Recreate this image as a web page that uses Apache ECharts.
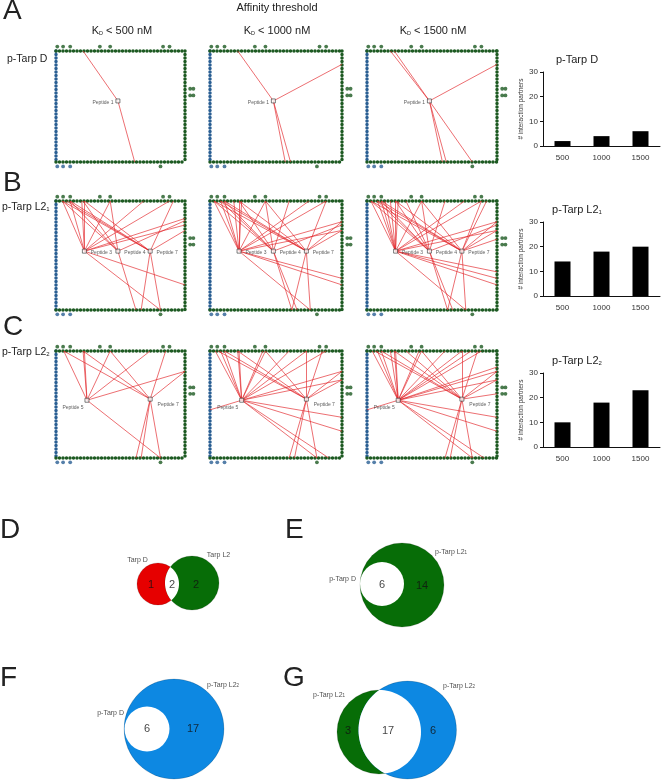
<!DOCTYPE html>
<html>
<head>
<meta charset="utf-8">
<title>Affinity threshold networks</title>
<script src="https://cdn.jsdelivr.net/npm/echarts@6/dist/echarts.min.js"></script>
<style>
html, body { margin: 0; padding: 0; background: #fff; }
#chart { width: 664px; height: 780px; }
</style>
</head>
<body>
<div id="chart"></div>
<script>
// ---- data ----
const thresholds = ['500', '1000', '1500'];
const partnersTarpD = [2, 4, 6];
const partnersTarpL2a = [14, 18, 20];
const partnersTarpL2b = [10, 18, 23];

// peptide nodes: [name, x, y] in box units (0-100, y from top)
const peptidesTarpD = [['Peptide 1', 48, 45]];
const peptidesTarpL2a = [['Peptide 3', 22, 46], ['Peptide 4', 48, 46], ['Peptide 7', 73, 46]];
const peptidesTarpL2b = [['Peptide 5', 24, 46], ['Peptide 7', 73, 45]];

// edges: [peptide index, partner x, partner y] (partners sit on the box border)
const edgesTarpD500 = [[0, 21, 0], [0, 61, 100]];
const edgesTarpD1000 = [[0, 21, 0], [0, 100, 12], [0, 57, 100], [0, 61, 100]];
const edgesTarpD1500 = [[0, 18, 0], [0, 21, 0], [0, 100, 12], [0, 58, 100], [0, 61, 100], [0, 81, 100]];

const edgesTarpL2a500 = [
  [0, 5, 0], [0, 11, 0], [0, 20, 0], [0, 22, 0], [0, 42, 0], [0, 68, 0], [0, 88, 0],
  [0, 100, 16], [0, 100, 22], [0, 100, 77], [0, 81, 100],
  [1, 5, 0], [1, 11, 0], [1, 21, 0], [1, 42, 0], [1, 100, 18], [1, 62, 100],
  [2, 5, 0], [2, 8, 0], [2, 11, 0], [2, 22, 0], [2, 91, 0], [2, 100, 27], [2, 66, 100], [2, 81, 100]
];
const edgesTarpL2a1000 = [
  [0, 3, 0], [0, 8, 0], [0, 11, 0], [0, 18, 0], [0, 22, 0], [0, 24, 0], [0, 42, 0], [0, 75, 0], [0, 88, 0],
  [0, 100, 19], [0, 100, 27], [0, 100, 71], [0, 100, 77], [0, 76, 100],
  [1, 3, 0], [1, 8, 0], [1, 11, 0], [1, 22, 0], [1, 42, 0], [1, 60, 0], [1, 100, 22], [1, 62, 100], [1, 66, 100],
  [2, 3, 0], [2, 8, 0], [2, 11, 0], [2, 22, 0], [2, 42, 0], [2, 88, 0], [2, 100, 19], [2, 100, 27], [2, 62, 100], [2, 76, 100]
];
const edgesTarpL2a1500 = [
  [0, 3, 0], [0, 8, 0], [0, 11, 0], [0, 14, 0], [0, 18, 0], [0, 22, 0], [0, 24, 0], [0, 42, 0], [0, 75, 0], [0, 88, 0],
  [0, 100, 19], [0, 100, 27], [0, 100, 65], [0, 100, 71], [0, 100, 77], [0, 76, 100],
  [1, 3, 0], [1, 8, 0], [1, 11, 0], [1, 22, 0], [1, 30, 0], [1, 42, 0], [1, 60, 0], [1, 100, 22], [1, 62, 100], [1, 66, 100],
  [2, 3, 0], [2, 8, 0], [2, 11, 0], [2, 22, 0], [2, 42, 0], [2, 88, 0], [2, 92, 0], [2, 100, 19], [2, 100, 27], [2, 100, 35],
  [2, 62, 100], [2, 76, 100]
];

const edgesTarpL2b500 = [
  [0, 6, 0], [0, 21, 0], [0, 22, 0], [0, 42, 0], [0, 73, 0], [0, 100, 19], [0, 81, 100],
  [1, 6, 0], [1, 21, 0], [1, 42, 0], [1, 85, 0], [1, 100, 19], [1, 62, 100], [1, 66, 100], [1, 81, 100]
];
const edgesTarpL2b1000 = [
  [0, 4, 0], [0, 8, 0], [0, 11, 0], [0, 21, 0], [0, 22, 0], [0, 40, 0], [0, 42, 0], [0, 60, 0], [0, 73, 0], [0, 88, 0],
  [0, 100, 19], [0, 100, 27], [0, 100, 62], [0, 100, 75], [0, 0, 55], [0, 81, 100], [0, 90, 100],
  [1, 6, 0], [1, 11, 0], [1, 21, 0], [1, 42, 0], [1, 73, 0], [1, 85, 0], [1, 100, 19], [1, 100, 27],
  [1, 60, 100], [1, 64, 100], [1, 81, 100]
];
const edgesTarpL2b1500 = [
  [0, 4, 0], [0, 8, 0], [0, 11, 0], [0, 18, 0], [0, 21, 0], [0, 22, 0], [0, 40, 0], [0, 42, 0], [0, 60, 0], [0, 73, 0],
  [0, 80, 0], [0, 88, 0], [0, 100, 15], [0, 100, 19], [0, 100, 27], [0, 100, 62], [0, 100, 75], [0, 0, 55],
  [0, 81, 100], [0, 90, 100],
  [1, 6, 0], [1, 11, 0], [1, 21, 0], [1, 30, 0], [1, 42, 0], [1, 73, 0], [1, 85, 0], [1, 100, 19], [1, 100, 27],
  [1, 100, 40], [1, 60, 100], [1, 64, 100], [1, 81, 100]
];

// extra nodes outside the box
const outerTop = [1, 5.5, 11, 34, 42, 83, 88];
const outerRight = [34, 40];
const outerBottomBlue = [1, 5.5, 11];
const outerBottomGreen = [81];

// venn diagrams ('|' marks a subscript)
const vennDNames = ['Tarp D', 'Tarp L2'];
const vennDCounts = [1, 2, 2];
const vennENames = ['p-Tarp D', 'p-Tarp L2|1'];
const vennECounts = [6, 14];
const vennFNames = ['p-Tarp D', 'p-Tarp L2|2'];
const vennFCounts = [6, 17];
const vennGNames = ['p-Tarp L2|1', 'p-Tarp L2|2'];
const vennGCounts = [3, 17, 6];

// ---- layout / style ----
const FONT = '"Liberation Sans", Arial, Helvetica, sans-serif';
const GREEN_NODE = '#1d5a22';
const BLUE_NODE = '#2a5f93';
const EDGE_RED = '#e2262b';
const V_RED = '#e60000';
const V_GREEN = '#076d07';
const V_BLUE = '#0d88e2';

const netCols = [[56, 185], [210, 342], [367, 497]];
const netRows = [[51, 162], [201, 310], [351, 458]];
const pepLabels = [
  [{ position: 'left', distance: 2, offset: [0, 2] }],
  [{ position: 'right', distance: 4, offset: [0, 1.5] }, { position: 'right', distance: 4, offset: [0, 1.5] }, { position: 'right', distance: 4, offset: [0, 1.5] }],
  [{ position: 'left', distance: 1, offset: [0, 7] }, { position: 'right', distance: 5, offset: [0, 5] }]
];
const networks = [
  { row: 0, col: 0, peptides: peptidesTarpD, edges: edgesTarpD500 },
  { row: 0, col: 1, peptides: peptidesTarpD, edges: edgesTarpD1000 },
  { row: 0, col: 2, peptides: peptidesTarpD, edges: edgesTarpD1500 },
  { row: 1, col: 0, peptides: peptidesTarpL2a, edges: edgesTarpL2a500 },
  { row: 1, col: 1, peptides: peptidesTarpL2a, edges: edgesTarpL2a1000 },
  { row: 1, col: 2, peptides: peptidesTarpL2a, edges: edgesTarpL2a1500 },
  { row: 2, col: 0, peptides: peptidesTarpL2b, edges: edgesTarpL2b500 },
  { row: 2, col: 1, peptides: peptidesTarpL2b, edges: edgesTarpL2b1000 },
  { row: 2, col: 2, peptides: peptidesTarpL2b, edges: edgesTarpL2b1500 }
];
const barCharts = [
  { top: 72, values: partnersTarpD, title: 'p-Tarp D', titleY: 60 },
  { top: 222, values: partnersTarpL2a, title: 'p-Tarp L2|1', titleY: 210 },
  { top: 373, values: partnersTarpL2b, title: 'p-Tarp L2|2', titleY: 361 }
];
// circles: [cx, cy, r, colour] in pixel units inside each venn box
const vennCharts = [
  { left: 100, top: 530, circles: [[58, 54, 21, V_RED], [92, 53, 27, V_GREEN]], lens: true,
    names: vennDNames, nameAt: [[37.5, 30, 'center'], [118.5, 25, 'center']],
    counts: vennDCounts, countAt: [[51, 55], [72, 55], [96, 55]] },
  { left: 320, top: 530, circles: [[82, 55, 42, V_GREEN], [62, 54, 22, '#fff']], lens: false,
    names: vennENames, nameAt: [[36, 49, 'right'], [115, 22, 'left']],
    counts: vennECounts, countAt: [[62, 55], [102, 56]] },
  { left: 100, top: 670, circles: [[74, 59, 50, V_BLUE], [47, 59, 22.5, '#fff']], lens: false,
    names: vennFNames, nameAt: [[24, 43, 'right'], [107, 15, 'left']],
    counts: vennFCounts, countAt: [[47, 59], [93, 59]] },
  { left: 310, top: 670, circles: [[69, 62, 42, V_GREEN], [97.5, 60, 49, V_BLUE]], lens: true,
    names: vennGNames, nameAt: [[3, 25, 'left'], [133, 16, 'left']],
    counts: vennGCounts, countAt: [[38, 61], [78, 61], [123, 61]] }
];

function richText(name) {
  if (name.indexOf('|') < 0) return '{m|' + name + '}';
  const parts = name.split('|');
  return '{m|' + parts[0] + '}{s|' + parts[1] + '}';
}

function gtext(x, y, text, size, align, subSize) {
  const el = {
    type: 'text', x: x, y: y, silent: true,
    style: { text: text, fontSize: size, fontFamily: FONT, fill: '#222', align: align, textAlign: align,
      verticalAlign: 'middle', textVerticalAlign: 'middle' }
  };
  if (subSize) {
    el.style.rich = {
      m: { fontSize: size, fontFamily: FONT, fill: '#222' },
      s: { fontSize: subSize, fontFamily: FONT, fill: '#222', verticalAlign: 'bottom', lineHeight: subSize }
    };
  }
  return el;
}

function netAxis(gridIndex, position, color, inverse) {
  return {
    type: 'value', gridIndex: gridIndex, position: position, min: 0, max: 100, inverse: inverse,
    axisLine: { show: true, onZero: false, lineStyle: { color: color, width: 3.5, type: [0, 3.5], cap: 'round' } },
    axisTick: { show: false }, axisLabel: { show: false }, splitLine: { show: false }
  };
}

const grids = [], xAxis = [], yAxis = [], series = [], graphic = [];

// ---- networks ----
networks.forEach(net => {
  const [x0, x1] = netCols[net.col];
  const [y0, y1] = netRows[net.row];
  const gi = grids.push({ left: x0, top: y0, width: x1 - x0, height: y1 - y0, outerBoundsMode: 'none' }) - 1;
  const xi = xAxis.push(netAxis(gi, 'bottom', GREEN_NODE, false)) - 1;
  xAxis.push(netAxis(gi, 'top', GREEN_NODE, false));
  const yi = yAxis.push(netAxis(gi, 'left', BLUE_NODE, true)) - 1;
  yAxis.push(netAxis(gi, 'right', GREEN_NODE, true));

  const pep = net.peptides;
  series.push({
    type: 'lines', coordinateSystem: 'cartesian2d', xAxisIndex: xi, yAxisIndex: yi, silent: true, z: 2,
    lineStyle: { color: EDGE_RED, width: 0.7, opacity: 0.95 },
    data: net.edges.map(e => ({ coords: [[pep[e[0]][1], pep[e[0]][2]], [e[1], e[2]]] }))
  });
  series.push({
    type: 'scatter', xAxisIndex: xi, yAxisIndex: yi, silent: true, z: 4,
    symbol: 'rect', symbolSize: 4,
    itemStyle: { color: '#fff', borderColor: '#333', borderWidth: 0.8 },
    label: { show: true, formatter: '{b}', fontSize: 5, color: '#333', fontFamily: FONT },
    data: pep.map((p, i) => ({ name: p[0], value: [p[1], p[2]], label: pepLabels[net.row][i] }))
  });
  const outer = [];
  outerTop.forEach(x => outer.push({ value: [x, -4], itemStyle: { color: GREEN_NODE } }));
  outerRight.forEach(y => {
    outer.push({ value: [104, y], itemStyle: { color: GREEN_NODE } });
    outer.push({ value: [106.5, y], itemStyle: { color: GREEN_NODE } });
  });
  outerBottomBlue.forEach(x => outer.push({ value: [x, 104], itemStyle: { color: BLUE_NODE } }));
  outerBottomGreen.forEach(x => outer.push({ value: [x, 104], itemStyle: { color: GREEN_NODE } }));
  series.push({
    type: 'scatter', xAxisIndex: xi, yAxisIndex: yi, silent: true, clip: false, z: 3,
    symbolSize: 3.8, data: outer
  });
});

// ---- bar charts ----
barCharts.forEach(b => {
  const gi = grids.push({ left: 543, width: 117, top: b.top, height: 74, outerBoundsMode: 'none' }) - 1;
  const xi = xAxis.push({
    type: 'category', gridIndex: gi, data: thresholds,
    axisLine: { show: true, lineStyle: { color: '#111', width: 1 } },
    axisTick: { show: false },
    axisLabel: { color: '#333', fontSize: 8, fontFamily: FONT, margin: 8 }
  }) - 1;
  const yi = yAxis.push({
    type: 'value', gridIndex: gi, min: 0, max: 30, interval: 10,
    name: '# interaction partners', nameLocation: 'middle', nameGap: 18,
    nameTextStyle: { fontSize: 6.5, color: '#333', fontFamily: FONT },
    axisLine: { show: true, lineStyle: { color: '#111', width: 1 } },
    axisTick: { show: true, length: 3, lineStyle: { color: '#111' } },
    axisLabel: { color: '#333', fontSize: 8, fontFamily: FONT, margin: 5 },
    splitLine: { show: false }
  }) - 1;
  series.push({
    type: 'bar', xAxisIndex: xi, yAxisIndex: yi, data: b.values, barWidth: 16, silent: true,
    itemStyle: { color: '#000' }
  });
  graphic.push(gtext(577, b.titleY, richText(b.title), 11, 'center', 6));
});

// ---- venn diagrams ----
function lensPoints(c1, c2) {
  const dx = c2[0] - c1[0], dy = c2[1] - c1[1];
  const d = Math.hypot(dx, dy);
  const th = Math.atan2(dy, dx);
  const a1 = Math.acos((d * d + c1[2] * c1[2] - c2[2] * c2[2]) / (2 * d * c1[2]));
  const a2 = Math.acos((d * d + c2[2] * c2[2] - c1[2] * c1[2]) / (2 * d * c2[2]));
  const pts = [];
  const n = 48;
  for (let i = 0; i <= n; i++) {
    const t = th - a1 + 2 * a1 * i / n;
    pts.push([c1[0] + c1[2] * Math.cos(t), c1[1] + c1[2] * Math.sin(t)]);
  }
  for (let i = 0; i <= n; i++) {
    const t = th + Math.PI - a2 + 2 * a2 * i / n;
    pts.push([c2[0] + c2[2] * Math.cos(t), c2[1] + c2[2] * Math.sin(t)]);
  }
  return pts;
}

vennCharts.forEach(v => {
  const gi = grids.push({ left: v.left, top: v.top, width: 160, height: 120, outerBoundsMode: 'none' }) - 1;
  const xi = xAxis.push({ type: 'value', gridIndex: gi, min: 0, max: 160, show: false }) - 1;
  const yi = yAxis.push({ type: 'value', gridIndex: gi, min: 0, max: 120, inverse: true, show: false }) - 1;
  const colors = v.circles.map(c => c[3]);
  series.push({
    type: 'custom', xAxisIndex: xi, yAxisIndex: yi, silent: true, z: 2,
    data: v.circles.map(c => [c[0], c[1], c[2]]),
    renderItem: (params, api) => {
      const p = api.coord([api.value(0), api.value(1)]);
      const r = api.size([api.value(2), 0])[0];
      const white = colors[params.dataIndex] === '#fff';
      return {
        type: 'circle', shape: { cx: p[0], cy: p[1], r: r },
        style: { fill: colors[params.dataIndex], stroke: white ? null : 'rgba(0,0,0,0.25)', lineWidth: 0.6 }
      };
    }
  });
  if (v.lens) {
    series.push({
      type: 'custom', xAxisIndex: xi, yAxisIndex: yi, silent: true, z: 3,
      data: [[0, 0]],
      renderItem: (params, api) => {
        const px = v.circles.map(c => {
          const p = api.coord([c[0], c[1]]);
          return [p[0], p[1], api.size([c[2], 0])[0]];
        });
        return { type: 'polygon', shape: { points: lensPoints(px[0], px[1]) }, style: { fill: '#fff' } };
      }
    });
  }
  series.push({
    type: 'scatter', xAxisIndex: xi, yAxisIndex: yi, silent: true, z: 5, symbolSize: 0,
    data: v.counts.map((n, i) => [v.countAt[i][0], v.countAt[i][1], n]),
    label: { show: true, position: 'inside', formatter: p => p.value[2], fontSize: 11, color: '#111', fontFamily: FONT }
  });
  const posFor = { left: 'right', right: 'left', center: 'inside' };
  series.push({
    type: 'scatter', xAxisIndex: xi, yAxisIndex: yi, silent: true, z: 5, symbolSize: 0,
    data: v.names.map((nm, i) => ({
      name: nm, value: [v.nameAt[i][0], v.nameAt[i][1]],
      label: { position: posFor[v.nameAt[i][2]], distance: 0 }
    })),
    label: {
      show: true, formatter: p => richText(p.name), fontFamily: FONT,
      rich: {
        m: { fontSize: 7, color: '#222', fontFamily: FONT },
        s: { fontSize: 4.5, color: '#222', fontFamily: FONT, verticalAlign: 'bottom', lineHeight: 4 }
      }
    }
  });
});

// ---- text ----
[['A', 3, 11], ['B', 3, 183], ['C', 3, 327], ['D', 0, 530], ['E', 285, 530], ['F', 0, 678], ['G', 283, 678]]
  .forEach(t => graphic.push(gtext(t[1], t[2], t[0], 28, 'left')));
graphic.push(gtext(277, 8, 'Affinity threshold', 11, 'center'));
[['500', 122], ['1000', 277], ['1500', 433]].forEach(t =>
  graphic.push(gtext(t[1], 31, '{m|K}{s|D}{m| < ' + t[0] + ' nM}', 11, 'center', 5.5)));
graphic.push(gtext(7, 59, richText('p-Tarp D'), 10.5, 'left', 6));
graphic.push(gtext(2, 207, richText('p-Tarp L2|1'), 10.5, 'left', 6));
graphic.push(gtext(2, 352, richText('p-Tarp L2|2'), 10.5, 'left', 6));

const chart = echarts.init(document.getElementById('chart'));
chart.setOption({
  animation: false,
  backgroundColor: '#fff',
  grid: grids,
  xAxis: xAxis,
  yAxis: yAxis,
  series: series,
  graphic: graphic
});
</script>
</body>
</html>
